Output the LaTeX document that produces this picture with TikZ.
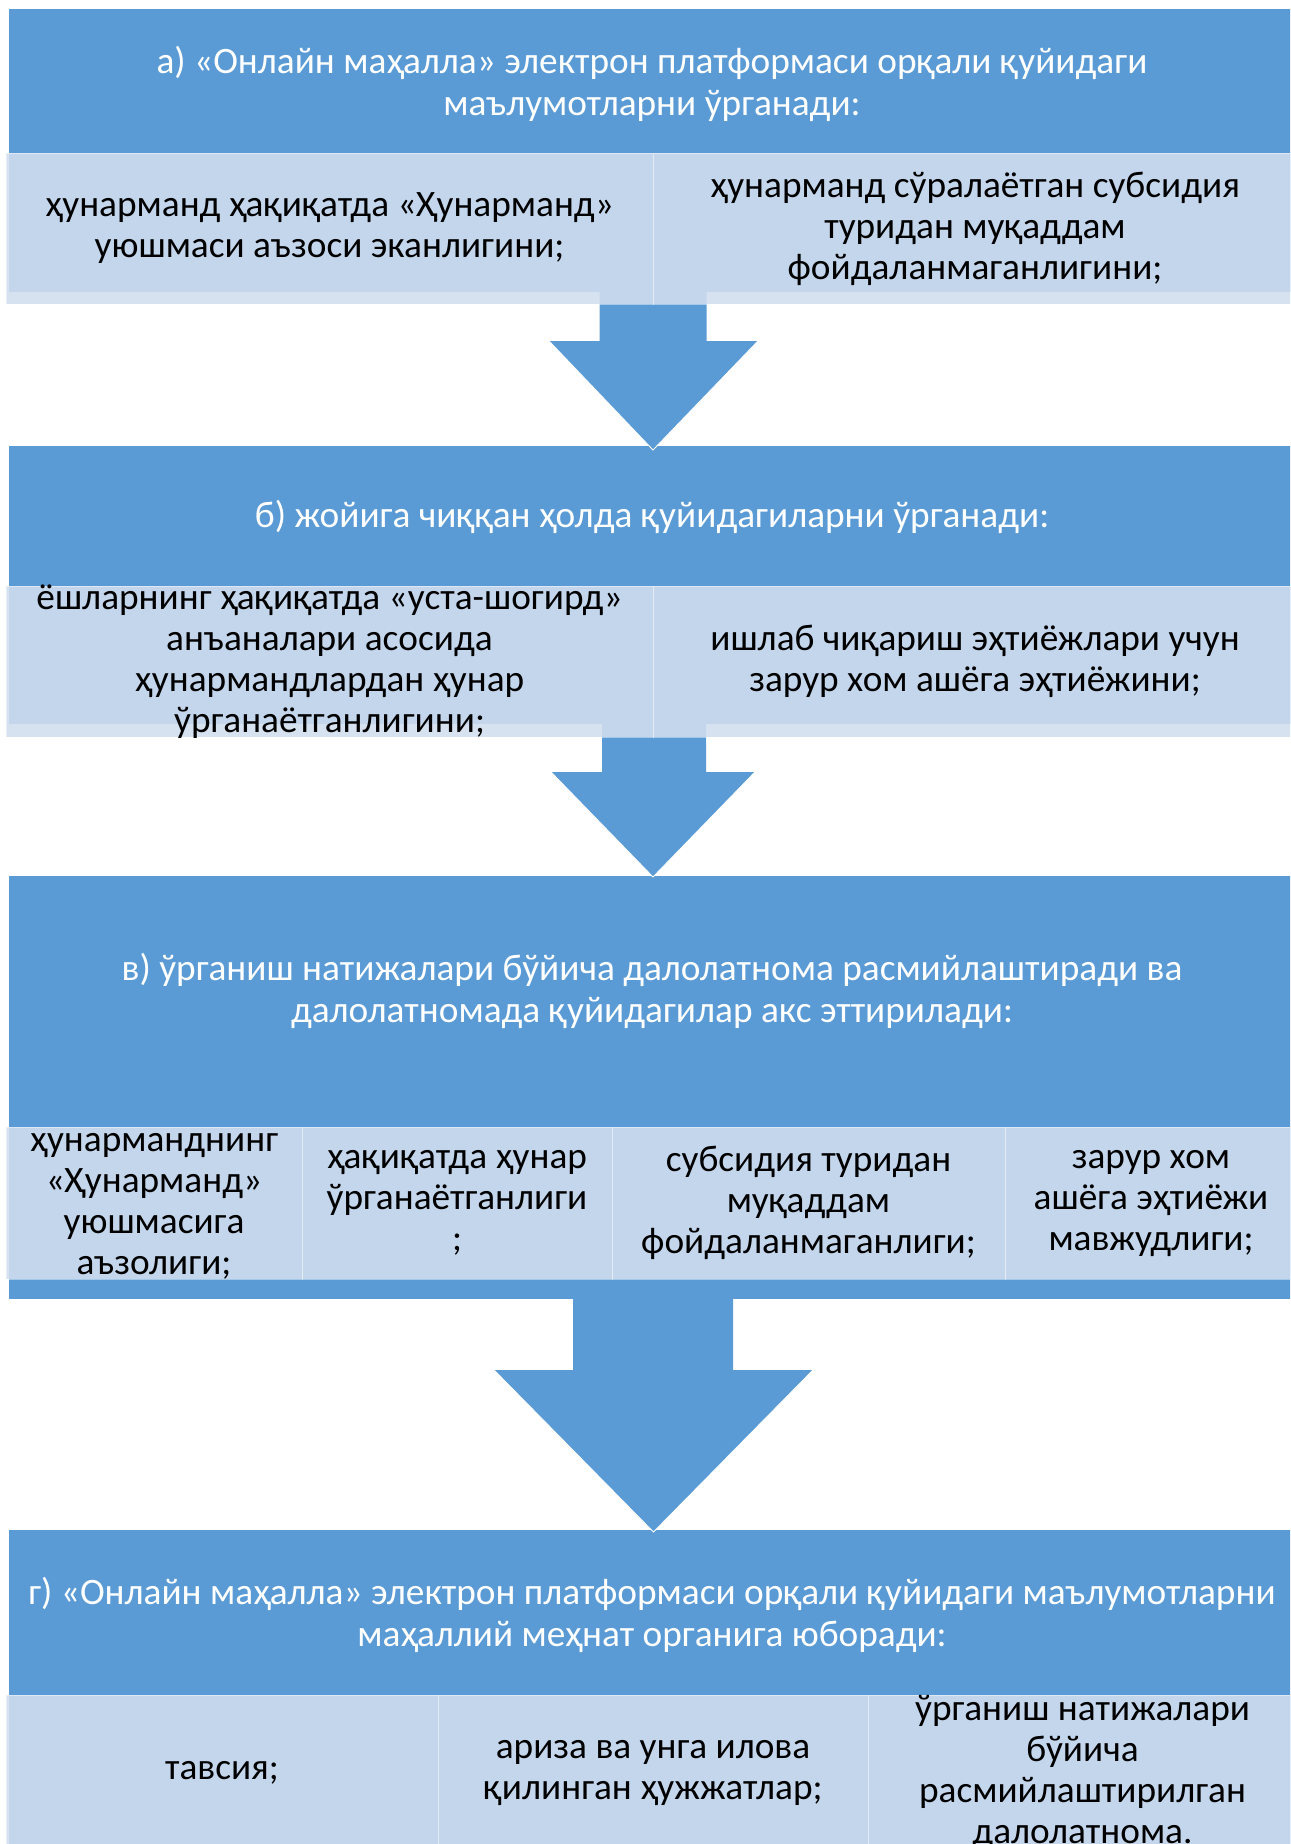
\documentclass[tikz,border=0pt]{standalone}
\usepackage{fontspec}
\setmainfont{Carlito}
\definecolor{hb}{HTML}{5B9BD5}
\definecolor{sb}{HTML}{D2DEEF}
\tikzset{
  hdrbox/.style={fill=hb, draw=none, inner sep=0pt, rectangle},
  hdrtxt/.style={text=white, align=center, inner sep=0pt, font=\fontsize{37.3}{42}\selectfont},
  subbox/.style={fill=sb, fill opacity=0.89, draw=white, draw opacity=0.45, line width=1pt,
     inner sep=0pt, rectangle},
  subtxt/.style={align=center, inner sep=0pt, text=black, font=\fontsize{37.3}{41}\selectfont},
  blkarrow/.style={fill=hb, draw=none},
  tipline/.style={draw=white, line width=0.9pt}
}
\begin{document}
\begin{tikzpicture}[x=1pt,y=-1pt]
\useasboundingbox (0,0) rectangle (1290,1844);
\clip (0,0) rectangle (1290,1844);
% header (blue) boxes
\node[hdrbox, minimum width=1288pt, minimum height=283pt] (A) at (653,150.5) {};
\node[hdrbox, minimum width=1288pt, minimum height=278pt] (B) at (653,585) {};
\node[hdrbox, minimum width=1288pt, minimum height=423pt] (C) at (653,1087.5) {};
\node[hdrbox, minimum width=1288pt, minimum height=330pt] (D) at (653,1695) {};
% header texts
\node[hdrtxt] (At) at (652,84) {а) «Онлайн маҳалла» электрон платформаси орқали қуйидаги\\маълумотларни ўрганади:};
\node[hdrtxt] (Bt) at (652,517) {б) жойига чиққан ҳолда қуйидагиларни ўрганади:};
\node[hdrtxt] (Ct) at (652,991) {в) ўрганиш натижалари бўйича далолатнома расмийлаштиради ва\\далолатномада қуйидагилар акс эттирилади:};
\node[hdrtxt] (Dt) at (652,1615) {г) «Онлайн маҳалла» электрон платформаси орқали қуйидаги маълумотларни\\маҳаллий меҳнат органига юборади:};
% block arrows
\fill[blkarrow] (599.5,292) -- (706.5,292) -- (706.5,341) -- (758,341) -- (653,450) -- (549,341) -- (599.5,341) -- cycle;
\draw[tipline] (549,341) -- (653,450) -- (758,341);
\fill[blkarrow] (602,724) -- (706,724) -- (706,772) -- (755,772) -- (653,877) -- (551,772) -- (602,772) -- cycle;
\draw[tipline] (551,772) -- (653,877) -- (755,772);
\fill[blkarrow] (573,1299) -- (733,1299) -- (733,1370) -- (813,1370) -- (653.5,1532) -- (494,1370) -- (573,1370) -- cycle;
\draw[tipline] (494,1370) -- (653.5,1532) -- (813,1370);
% sub boxes a
\node[subbox, minimum width=647pt, minimum height=151pt] (A1) at (329.5,228.5) {};
\node[subbox, minimum width=644pt, minimum height=151pt] (A2) at (975,228.5) {};
% sub boxes b
\node[subbox, minimum width=647pt, minimum height=151pt] (B1) at (329.5,661.5) {};
\node[subbox, minimum width=644pt, minimum height=151pt] (B2) at (975,661.5) {};
% sub boxes c
\node[subbox, minimum width=296pt, minimum height=152pt] (C1) at (154,1203) {};
\node[subbox, minimum width=310pt, minimum height=152pt] (C2) at (457,1203) {};
\node[subbox, minimum width=393pt, minimum height=152pt] (C3) at (808.5,1203) {};
\node[subbox, minimum width=292pt, minimum height=152pt] (C4) at (1151,1203) {};
% sub boxes d
\node[subbox, minimum width=432pt, minimum height=155pt] (D1) at (222,1772.5) {};
\node[subbox, minimum width=430pt, minimum height=155pt] (D2) at (653,1772.5) {};
\node[subbox, minimum width=429pt, minimum height=155pt] (D3) at (1082.5,1772.5) {};
% sub box texts
\node[subtxt] (A1t) at (A1.center) {ҳунарманд ҳақиқатда «Ҳунарманд»\\уюшмаси аъзоси эканлигини;};
\node[subtxt] (A2t) at (A2.center) {ҳунарманд сўралаётган субсидия\\туридан муқаддам\\фойдаланмаганлигини;};
\node[subtxt] (B1t) at (B1.center) {ёшларнинг ҳақиқатда «уста-шогирд»\\анъаналари асосида\\ҳунармандлардан ҳунар\\ўрганаётганлигини;};
\node[subtxt] (B2t) at (B2.center) {ишлаб чиқариш эҳтиёжлари учун\\зарур хом ашёга эҳтиёжини;};
\node[subtxt] (C1t) at ([yshift=-3pt]C1.center) {ҳунарманднинг\\«Ҳунарманд»\\уюшмасига\\аъзолиги;};
\node[subtxt] (C2t) at (C2.center) {ҳақиқатда ҳунар\\ўрганаётганлиги\\;};
\node[subtxt] (C3t) at (C3.center) {субсидия туридан\\муқаддам\\фойдаланмаганлиги;};
\node[subtxt] (C4t) at (C4.center) {зарур хом\\ашёга эҳтиёжи\\мавжудлиги;};
\node[subtxt] (D1t) at (D1.center) {тавсия;};
\node[subtxt] (D2t) at (D2.center) {ариза ва унга илова\\қилинган ҳужжатлар;};
\node[subtxt] (D3t) at (D3.center) {ўрганиш натижалари\\бўйича\\расмийлаштирилган\\далолатнома.};
\end{tikzpicture}
\end{document}
